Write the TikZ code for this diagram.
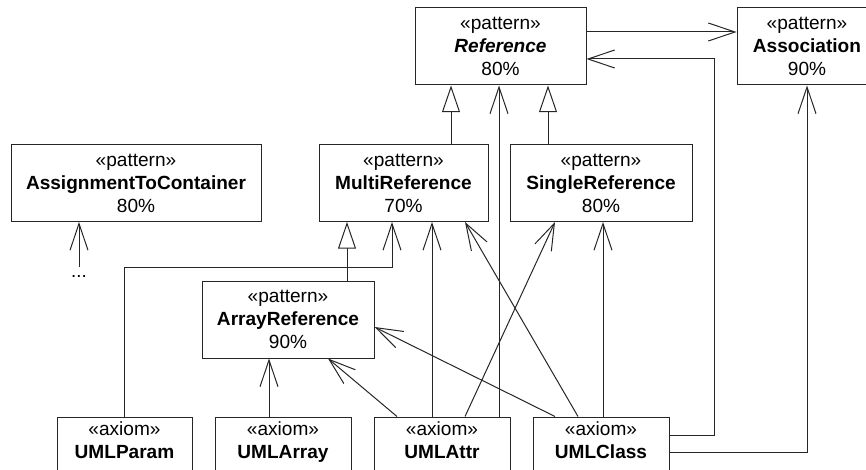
\documentclass[tikz,border=0pt]{standalone}
\usepackage{fontspec}
\setmainfont{Liberation Sans}
\usetikzlibrary{arrows.meta,calc}
\begin{document}
\begin{tikzpicture}[x=0.75pt,y=-0.75pt,
  cls/.style={draw=black!85,line width=0.75pt,rectangle,minimum height=77*0.75pt,
    inner sep=0pt,align=center,font=\fontsize{14.3}{17.25}\selectfont},
  link/.style={draw=black!85,line width=0.75pt,-{Straight Barb[length=20pt,width=13.5pt]}},
  gen/.style={draw=black!85,line width=0.75pt,-{Triangle[open,length=20pt,width=13.5pt,fill=white]}}]
\useasboundingbox (0,0) rectangle (866,470);
\clip (0,0) rectangle (866,470);

% pattern boxes
\node[cls,minimum width=171*0.75pt] (ref) at (500.5,46.5) {«pattern»\\\textbf{\textit{Reference}}\\80\%};
\node[cls,minimum width=140*0.75pt] (assoc) at (807,46.5) {«pattern»\\\textbf{Association}\\90\%};
\node[cls,minimum width=169*0.75pt] (multi) at (403.5,183) {«pattern»\\\textbf{MultiReference}\\70\%};
\node[cls,minimum width=182*0.75pt] (single) at (601,183) {«pattern»\\\textbf{SingleReference}\\80\%};
\node[cls,minimum width=250*0.75pt] (assign) at (136,183) {«pattern»\\\textbf{AssignmentToContainer}\\80\%};
\node[cls,minimum width=172*0.75pt] (array) at (288,319.5) {«pattern»\\\textbf{ArrayReference}\\90\%};

% axiom boxes
\node[cls,minimum width=135*0.75pt] (param) at (124.5,455.5) {«axiom»\\\textbf{UMLParam}\\\strut};
\node[cls,minimum width=136*0.75pt] (uarray) at (283,455.5) {«axiom»\\\textbf{UMLArray}\\\strut};
\node[cls,minimum width=136*0.75pt] (attr) at (442,455.5) {«axiom»\\\textbf{UMLAttr}\\\strut};
\node[cls,minimum width=136*0.75pt] (class) at (601,455.5) {«axiom»\\\textbf{UMLClass}\\\strut};

% continuation marker
\node[inner sep=0pt,anchor=base,font=\fontsize{14}{16}\selectfont] (dots) at (79,277.5) {...};
\coordinate (dtop) at (79,267);

% generalizations
\draw[gen] ($(multi.north)+(47.5,0)$) coordinate (g1) -- (g1 |- ref.south);
\draw[gen] ($(single.north)+(-53,0)$) coordinate (g2) -- (g2 |- ref.south);
\draw[gen] ($(array.north)+(59,0)$) coordinate (g3) -- (g3 |- multi.south);

% associations
\draw[link] ($(ref.east)+(0,-14.5)$) coordinate (a1) -- (a1 -| assoc.west);
\draw[link] ($(class.north east)+(0,19)$) -| ($(ref.east)+(128,12.5)$) -- ($(ref.east)+(0,12.5)$);
\draw[link] ($(class.north east)+(0,36)$) -| (assoc.south);
\draw[link] ($(attr.north)+(57,0)$) coordinate (a2) -- (a2 |- ref.south);
\draw[link] (dtop) -- (dtop |- assign.south);
\draw[link] (param.north) |- ($(multi.south)+(-11.5,45)$) -- ($(multi.south)+(-11.5,0)$);
\draw[link] ($(uarray.north)+(-14,0)$) coordinate (a3) -- (a3 |- array.south);
\draw[link] ($(attr.north)+(-45,0)$) -- ($(array.south)+(40,0)$);
\draw[link] ($(class.north)+(-46,0)$) -- ($(array.east)+(0,7.5)$);
\draw[link] ($(attr.north)+(-10,0)$) coordinate (a4) -- (a4 |- multi.south);
\draw[link] ($(class.north)+(-23,0)$) -- ($(multi.south)+(61.5,0)$);
\draw[link] ($(attr.north)+(23,0)$) -- ($(single.south)+(-46,0)$);
\draw[link] ($(class.north)+(2,0)$) coordinate (a5) -- (a5 |- single.south);
\end{tikzpicture}
\end{document}
